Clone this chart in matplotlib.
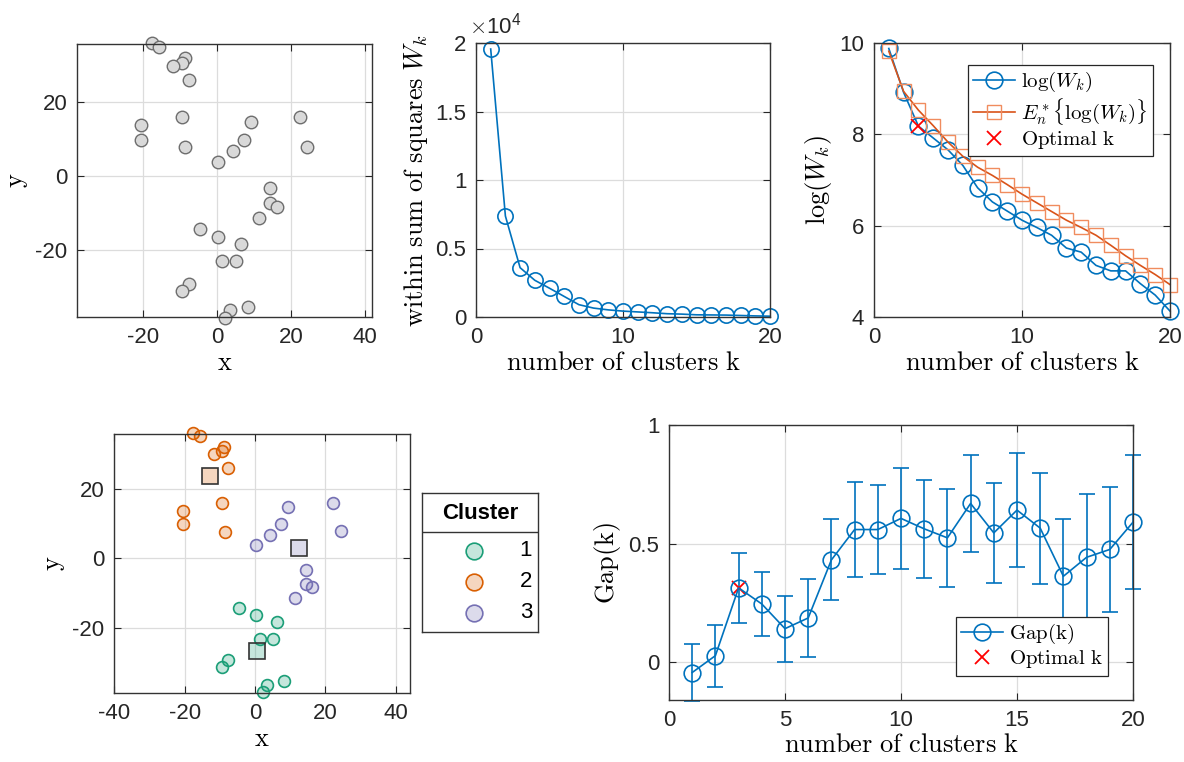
import numpy as np
import matplotlib.pyplot as plt
from matplotlib.lines import Line2D

plt.rcParams['font.family'] = ['Liberation Sans', 'DejaVu Sans']
plt.rcParams['mathtext.fontset'] = 'cm'
plt.rcParams['axes.unicode_minus'] = False

# points (x, y) and the cluster each one falls in
pt_x = [-17.5, -15.5, -8.7, -9.5, -11.7, -7.6, -9.5, -20.4, -20.4, -8.5,
        22.3, 9.3, 7.3, 4.3, 0.3, 24.4, 14.4, 14.4, 16.3, 11.4,
        -4.5, 0.3, 6.4, 1.4, 5.2, -7.6, -9.5, 8.3, 3.5, 2.2]
pt_y = [35.8, 34.9, 31.8, 30.6, 29.8, 25.8, 15.8, 13.7, 9.8, 7.7,
        15.9, 14.7, 9.8, 6.8, 3.8, 7.9, -3.2, -7.2, -8.3, -11.3,
        -14.3, -16.3, -18.2, -23.0, -23.0, -29.1, -31.0, -35.2, -36.2, -38.2]
pt_cluster = [2] * 10 + [3] * 10 + [1] * 10

cluster_ids = [1, 2, 3]
cluster_colors = ['#1b9e77', '#d95f02', '#7570b3']

# elbow / gap statistic
k = list(range(1, 21))
within_ss = [19560, 7370, 3600, 2680, 2100, 1500, 900, 650, 520, 430,
             370, 310, 240, 210, 160, 150, 140, 110, 80, 60]
log_w = [9.88, 8.92, 8.18, 7.92, 7.66, 7.32, 6.83, 6.52, 6.32, 6.12,
         5.96, 5.79, 5.51, 5.42, 5.13, 5.01, 5.01, 4.73, 4.48, 4.13]
log_w_ref = [9.82, 8.94, 8.53, 8.19, 7.83, 7.52, 7.28, 7.10, 6.90, 6.69,
             6.50, 6.31, 6.12, 5.96, 5.79, 5.57, 5.34, 5.13, 4.93, 4.71]
gap = [-0.044, 0.027, 0.313, 0.245, 0.141, 0.186, 0.431, 0.559, 0.559, 0.606,
       0.562, 0.524, 0.669, 0.545, 0.641, 0.565, 0.362, 0.442, 0.475, 0.590]
gap_err = [0.119, 0.131, 0.149, 0.137, 0.139, 0.166, 0.171, 0.200, 0.186, 0.213,
           0.206, 0.207, 0.205, 0.211, 0.239, 0.234, 0.241, 0.265, 0.263, 0.282]
k_opt = 3

BLUE = '#0072bd'
ORANGE = '#d95319'
W, H = 1184, 762


def box(x0, y0, x1, y1):
    # pixel box -> figure fraction
    return [x0 / W, 1 - y1 / H, (x1 - x0) / W, (y1 - y0) / H]


def style(ax):
    ax.tick_params(direction='in', length=5, width=0.8, labelsize=16,
                   top=True, right=True, colors='#262626', pad=7)
    ax.grid(True, color='#dcdcdc', linewidth=0.9)
    ax.set_axisbelow(True)
    for s in ax.spines.values():
        s.set_color('#333333')
        s.set_linewidth(1.0)


def lab(text):
    return r'$\mathrm{' + text.replace(' ', r'\ ') + '}$'


def legend_at(ax, handles, labels, x, y):
    leg = ax.legend(handles, labels, loc='upper left', bbox_to_anchor=(x / W, 1 - y / H),
                    bbox_transform=fig.transFigure, borderaxespad=0, fontsize=15,
                    handlelength=2.0, handletextpad=0.3, labelspacing=0.1,
                    borderpad=0.25, fancybox=False, framealpha=1)
    leg.get_frame().set_edgecolor('#262626')
    leg.get_frame().set_linewidth(0.9)
    return leg


fig = plt.figure(figsize=(W / 100, H / 100), dpi=100)

# raw data
ax1 = fig.add_axes(box(77, 44, 372, 317))
style(ax1)
ax1.plot(pt_x, pt_y, 'o', ms=9, mfc='#d9d9d9', mec='#6e6e6e', mew=1.0, clip_on=False)
ax1.set_xlim(-37.7, 41.8)
ax1.set_ylim(-38.0, 35.6)
ax1.set_xticks([-20, 0, 20, 40])
ax1.set_yticks([-20, 0, 20])
ax1.set_xlabel(lab('x'), fontsize=19, labelpad=2)
ax1.set_ylabel(lab('y'), fontsize=19, labelpad=4)

# within sum of squares
ax2 = fig.add_axes(box(476, 43, 770, 317))
style(ax2)
ax2.plot(k, within_ss, '-o', color=BLUE, ms=11, mfc='none', mew=1.2, lw=1.2, clip_on=False)
ax2.set_xlim(0, 20)
ax2.set_ylim(0, 20000)
ax2.set_xticks([0, 10, 20])
ax2.set_yticks([0, 5000, 10000, 15000, 20000])
ax2.set_yticklabels(['0', '0.5', '1', '1.5', '2'])
ax2.text(-0.5, 20300, r'$\times\mathregular{10^4}$', fontsize=16, color='#262626',
         ha='left', va='bottom')
ax2.set_xlabel(lab('number of clusters k'), fontsize=19, labelpad=2)
ax2.set_ylabel(r'$\mathrm{within\ sum\ of\ squares}\ W_k$', fontsize=19, labelpad=4)

# log W_k vs reference
ax3 = fig.add_axes(box(874, 43, 1170, 317))
style(ax3)
l1, = ax3.plot(k, log_w, '-o', color=BLUE, ms=12, mfc='none', mew=1.2, lw=1.2,
               clip_on=False)
l2, = ax3.plot(k, log_w_ref, '-s', color=ORANGE, ms=10, mfc='none', mew=1.0, lw=1.2,
               mec='#f08c5e', clip_on=False)
l3, = ax3.plot([k[k_opt - 1]], [log_w[k_opt - 1]], 'x', color='red', ms=10, mew=1.3)
ax3.set_xlim(0, 20)
ax3.set_ylim(4, 10)
ax3.set_xticks([0, 10, 20])
ax3.set_yticks([4, 6, 8, 10])
ax3.set_xlabel(lab('number of clusters k'), fontsize=19, labelpad=2)
ax3.set_ylabel(r'$\log(W_k)$', fontsize=19, labelpad=4)
legend_at(ax3, [l1, l2, l3],
          [r'$\log(W_k)$', r'$E_n^*\{\log(W_k)\}$', lab('Optimal k')], 968, 65)

# clustered data
ax4 = fig.add_axes(box(114, 434, 410, 693))
style(ax4)
for cid, col in zip(cluster_ids, cluster_colors):
    xs = [x for x, c in zip(pt_x, pt_cluster) if c == cid]
    ys = [y for y, c in zip(pt_y, pt_cluster) if c == cid]
    ax4.plot(xs, ys, 'o', ms=8.5, mfc=col + '40', mec=col, mew=1.2, clip_on=False)
    ax4.plot(np.mean(xs), np.mean(ys), 's', ms=12, mfc=col + '40', mec='#333333',
             mew=1.2)
ax4.set_xlim(-40.1, 44.1)
ax4.set_ylim(-38.5, 35.6)
ax4.set_xticks([-40, -20, 0, 20, 40])
ax4.set_yticks([-20, 0, 20])
ax4.set_xlabel(lab('x'), fontsize=19, labelpad=2)
ax4.set_ylabel(lab('y'), fontsize=19, labelpad=4)

# cluster legend drawn as a small table
lg = fig.add_axes(box(422, 493, 538, 632))
lg.set_xlim(0, 1)
lg.set_ylim(0, 1)
lg.set_xticks([])
lg.set_yticks([])
for s in lg.spines.values():
    s.set_color('#333333')
    s.set_linewidth(1.0)
lg.text(0.5, 0.85, 'Cluster', fontsize=16, fontweight='bold', ha='center', va='center')
lg.axhline(0.72, color='#333333', lw=1.0)
rows = [0.583, 0.36, 0.137]
for cid, col, ry in zip(cluster_ids, cluster_colors, rows):
    lg.plot(0.45, ry, 'o', ms=12, mfc=col + '40', mec=col, mew=1.2)
    lg.text(0.95, ry, str(cid), fontsize=16, ha='right', va='center')

# gap statistic
ax5 = fig.add_axes(box(669, 425, 1133, 700))
style(ax5)
ax5.errorbar(k, gap, yerr=gap_err, fmt='-o', color=BLUE, ms=12, mfc='none',
             mew=1.2, lw=1.2, elinewidth=1.2, capsize=6, capthick=1.2, clip_on=False)
g2, = ax5.plot([k[k_opt - 1]], [gap[k_opt - 1]], 'x', color='red', ms=10, mew=1.3)
ax5.set_xlim(0, 20)
ax5.set_ylim(-0.16, 1)
ax5.set_xticks([0, 5, 10, 15, 20])
ax5.set_yticks([0, 0.5, 1])
ax5.set_yticklabels(['0', '0.5', '1'])
ax5.set_xlabel(lab('number of clusters k'), fontsize=19, labelpad=2)
ax5.set_ylabel(lab('Gap(k)'), fontsize=19, labelpad=4)
g1 = Line2D([], [], color=BLUE, marker='o', ms=12, mfc='none', mew=1.2, lw=1.2)
legend_at(ax5, [g1, g2], [lab('Gap(k)'), lab('Optimal k')], 956, 617)

fig.savefig('out.png', dpi=100)
